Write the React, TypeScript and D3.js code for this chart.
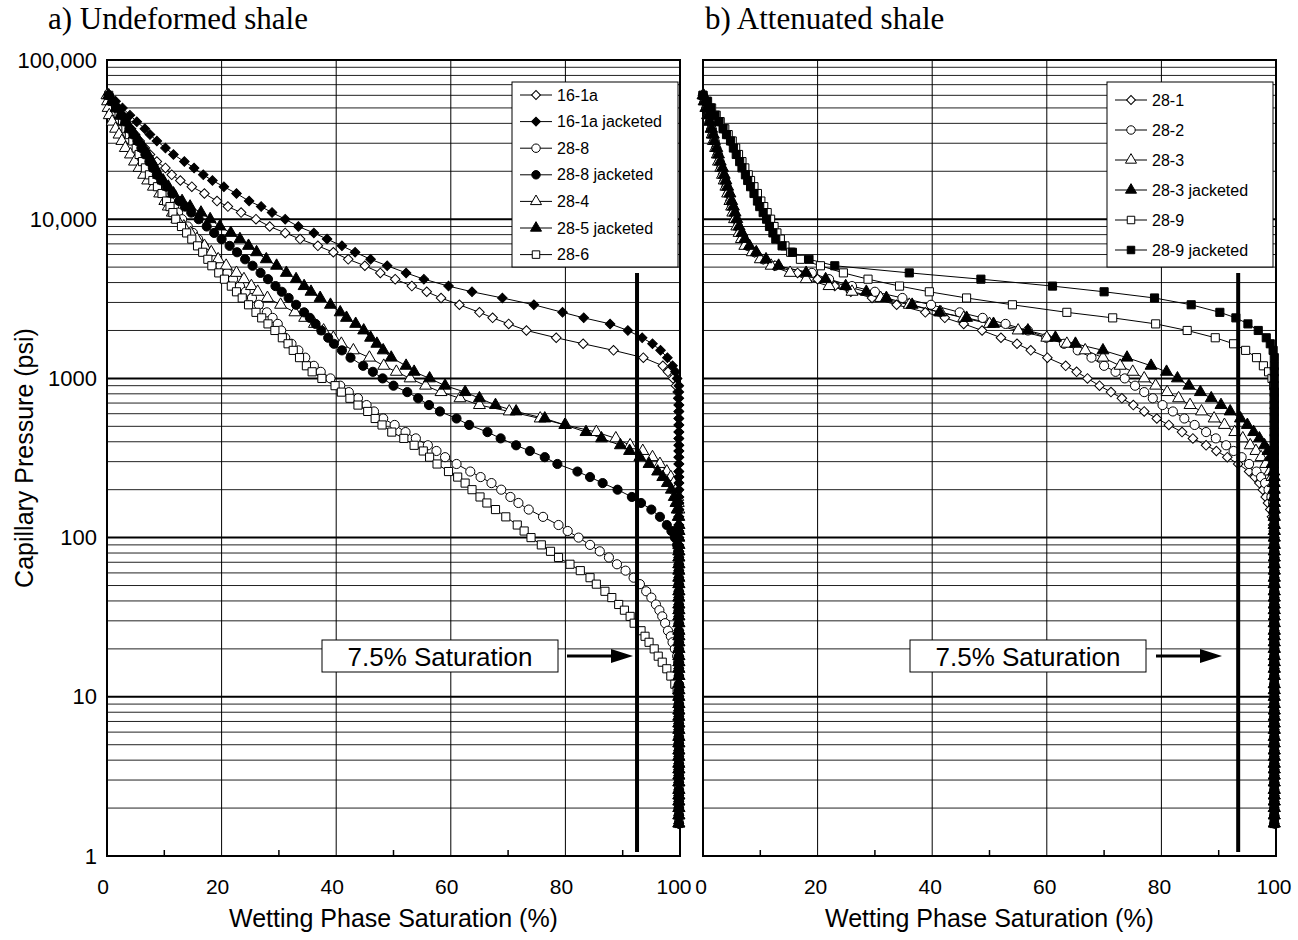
import * as d3 from "d3";
import { useEffect, useRef } from "react";

// mercury injection pressure schedule (psi), shared by every sample
const pressureSteps = [
  60000, 55000, 50000, 45000, 41000, 37000, 34000, 31000, 28000, 25500, 23000, 21000, 19000, 17500, 16000, 14500, 13000, 12000, 11000,
  10000, 9000, 8200, 7500, 6800, 6200, 5600, 5100, 4600, 4200, 3800, 3500, 3200, 2900, 2600, 2400, 2200, 2000, 1800, 1650, 1500, 1350, 1200, 1100,
  1000, 900, 820, 750, 680, 620, 560, 510, 460, 420, 380, 350, 320, 290, 260, 240, 220, 200, 180, 165, 150, 135, 120, 110,
  100, 90, 82, 75, 68, 62, 56, 51, 46, 42, 38, 35, 32, 29, 26, 24, 22, 20, 18, 16.5, 15, 13.5, 12, 11,
  10, 9, 8.2, 7.5, 6.8, 6.2, 5.6, 5.1, 4.6, 4.2, 3.8, 3.5, 3.2, 2.9, 2.6, 2.4, 2.2, 2.0, 1.8, 1.6,
];

// wetting phase saturation (%) at each pressure step; past the end of a list the sample sits at full saturation
// a) undeformed shale
const sat16_1a = [
  0.3, 1.2, 1.9, 2.7, 3.4, 4.2, 4.9, 5.7, 6.6, 7.5, 8.7, 10.2, 11.3, 12.8, 14.8, 17.0, 19.2, 21.1, 23.4,
  26.0, 28.4, 31.1, 33.7, 36.8, 39.5, 42.1, 45.0, 47.7, 50.3, 53.2, 55.8, 58.3, 61.5, 65.0, 67.3, 70.1, 73.2, 78.4, 83.1, 88.4, 93.6, 97.0, 97.9,
  98.8, 99.3, 99.6, 99.7,
];
const sat16_1aJ = [
  0.3, 1.5, 2.7, 4.0, 5.2, 6.6, 7.5, 8.7, 10.2, 11.6, 13.5, 15.2, 16.8, 18.4, 20.4, 22.6, 24.8, 26.9, 28.8,
  31.1, 33.4, 36.1, 38.4, 41.0, 43.3, 46.0, 48.9, 52.2, 55.3, 59.6, 63.7, 69.0, 74.5, 79.5, 83.2, 87.8, 90.9, 93.4, 95.2, 96.6, 97.8, 98.7, 99.2,
  99.5,
];
const sat28_8 = [
  0.3, 0.9, 1.6, 2.3, 2.9, 3.6, 4.2, 4.8, 5.4, 6.0, 6.6, 7.2, 7.8, 8.5, 9.3, 10.1, 11.0, 11.7, 12.4,
  13.1, 14.1, 15.0, 15.9, 16.9, 17.9, 18.9, 19.8, 21.0, 22.0, 23.2, 24.2, 25.3, 26.5, 27.9, 28.9, 29.8, 30.4, 31.1, 32.2, 33.4, 34.6, 36.1, 37.3,
  39.0, 40.7, 42.2, 43.8, 45.3, 46.6, 48.2, 50.2, 52.1, 53.9, 56.0, 57.5, 59.0, 61.0, 63.4, 65.2, 67.1, 68.8, 70.4, 71.8, 73.6, 76.1, 78.8, 80.4,
  82.3, 84.3, 86.0, 87.6, 89.0, 90.5, 91.9, 93.0, 94.1, 95.0, 95.8, 96.4, 96.9, 97.4, 97.9, 98.4, 98.7, 99.1, 99.5, 99.7,
];
const sat28_8J = [
  0.3, 1.0, 1.7, 2.5, 3.2, 3.9, 4.6, 5.3, 6.0, 6.7, 7.4, 8.0, 8.7, 9.5, 10.4, 11.4, 12.6, 13.6, 14.7,
  16.0, 17.4, 18.7, 20.0, 21.4, 22.7, 24.1, 25.4, 26.8, 28.1, 29.4, 30.5, 31.7, 33.0, 34.4, 35.4, 36.4, 37.4, 38.6, 39.6, 41.0, 42.5, 44.7, 46.4,
  48.1, 50.0, 52.4, 54.3, 56.2, 58.1, 61.0, 63.2, 66.4, 68.7, 71.4, 73.8, 76.4, 78.6, 82.1, 84.3, 86.5, 89.1, 91.6, 93.2, 95.0, 96.5, 97.7, 98.5,
  99.1, 99.5, 99.7,
];
const sat28_4 = [
  0.0, 0.1, 0.2, 0.4, 0.9, 1.5, 2.1, 2.6, 3.2, 4.1, 4.8, 5.6, 6.4, 7.1, 8.1, 9.2, 10.1, 10.7, 11.4,
  12.2, 13.4, 14.6, 15.7, 17.0, 18.2, 19.4, 20.8, 22.6, 23.9, 25.2, 26.3, 28.0, 30.3, 32.8, 34.5, 36.2, 37.8, 39.5, 40.9, 43.0, 45.8, 48.3, 50.5,
  52.9, 55.6, 58.3, 61.6, 65.0, 70.2, 75.6, 80.0, 85.4, 88.8, 91.3, 93.5, 95.2, 96.5, 97.7, 98.4, 98.9, 99.3, 99.6, 99.7,
];
const sat28_5J = [
  0.3, 0.9, 1.6, 2.4, 3.2, 4.0, 4.8, 5.6, 6.4, 7.1, 7.8, 8.4, 9.0, 9.8, 10.7, 11.6, 13.1, 14.5, 16.4,
  18.0, 19.7, 21.6, 23.2, 24.7, 26.1, 27.8, 29.6, 31.3, 33.0, 34.4, 35.6, 37.2, 39.0, 40.7, 41.8, 43.4, 44.8, 46.0, 47.1, 48.2, 49.6, 52.2, 53.6,
  56.3, 59.0, 62.5, 65.0, 67.8, 71.4, 76.4, 79.9, 83.6, 86.3, 89.6, 91.2, 93.0, 94.6, 96.1, 97.0, 97.8, 98.5, 99.0, 99.3, 99.5, 99.7,
];
const sat28_6 = [
  0.3, 0.9, 1.5, 2.1, 2.7, 3.3, 3.9, 4.5, 5.1, 5.6, 6.2, 6.7, 7.4, 8.0, 8.8, 9.6, 10.4, 11.0, 11.5,
  12.0, 13.0, 13.9, 14.8, 15.8, 16.7, 17.6, 18.3, 19.5, 20.5, 21.7, 22.6, 23.6, 24.7, 26.0, 27.0, 28.1, 29.3, 30.6, 31.6, 32.5, 33.6, 34.8, 35.8,
  37.5, 39.8, 40.9, 42.4, 43.8, 45.5, 46.8, 48.0, 49.7, 51.8, 53.6, 55.2, 56.3, 57.6, 59.6, 61.2, 62.5, 63.7, 65.1, 66.3, 67.8, 69.6, 71.6, 72.8,
  74.0, 75.8, 77.4, 78.8, 80.8, 82.6, 84.3, 85.4, 86.9, 88.1, 89.3, 90.3, 91.3, 92.0, 93.2, 93.9, 94.6, 95.5, 96.2, 96.9, 97.7, 98.4, 99.1, 99.5,
  99.7,
];

// b) attenuated shale
const sat28_1 = [
  0.0, 0.3, 0.6, 0.9, 1.2, 1.5, 1.7, 2.0, 2.3, 2.6, 2.9, 3.2, 3.5, 3.8, 4.1, 4.4, 4.8, 5.1, 5.4,
  5.7, 6.1, 6.6, 7.1, 7.8, 9.0, 10.5, 12.5, 16.5, 20.0, 23.0, 25.8, 29.5, 33.8, 38.8, 42.2, 45.5, 48.7, 52.0, 54.8, 57.2, 60.1, 63.3, 65.2,
  67.1, 69.2, 71.2, 73.1, 75.1, 77.0, 79.2, 81.3, 83.6, 85.5, 87.8, 89.6, 91.5, 93.4, 95.3, 96.3, 97.1, 97.7, 98.2, 98.6, 99.0, 99.3, 99.5, 99.6,
];
const sat28_2 = [
  0.0, 0.3, 0.6, 0.9, 1.2, 1.5, 1.7, 2.0, 2.3, 2.6, 2.9, 3.2, 3.5, 3.8, 4.1, 4.5, 4.8, 5.1, 5.4,
  5.7, 6.1, 6.6, 7.1, 7.8, 9.0, 10.5, 12.6, 19.0, 22.0, 26.0, 30.0, 34.8, 39.8, 44.8, 48.8, 52.8, 56.7, 59.9, 63.0, 65.4, 67.8, 70.0, 72.0,
  73.6, 75.4, 77.0, 78.5, 80.2, 82.0, 84.0, 85.8, 87.8, 89.5, 91.3, 92.6, 94.0, 95.3, 96.6, 97.4, 98.1, 98.7, 99.2, 99.5, 99.7,
];
const sat28_3 = [
  0.0, 0.2, 0.5, 0.8, 1.1, 1.4, 1.6, 1.8, 2.2, 2.5, 2.7, 3.1, 3.4, 3.7, 4.0, 4.3, 4.7, 5.0, 5.2,
  5.5, 5.9, 6.3, 6.7, 7.3, 8.6, 10.0, 11.9, 15.2, 18.0, 22.0, 26.0, 31.0, 36.0, 41.5, 45.5, 50.0, 55.0, 60.0, 63.5, 66.7, 69.8, 72.8, 75.0,
  77.0, 79.0, 81.0, 83.0, 85.0, 87.0, 89.2, 91.0, 92.8, 94.2, 95.5, 96.5, 97.4, 98.2, 98.9, 99.3, 99.5, 99.6,
];
const sat28_3J = [
  0.1, 0.3, 0.6, 0.9, 1.2, 1.5, 1.8, 2.0, 2.4, 2.7, 3.0, 3.4, 3.7, 4.0, 4.3, 4.7, 5.0, 5.3, 5.6,
  5.9, 6.3, 6.8, 7.3, 8.1, 9.3, 11.0, 13.2, 18.0, 21.4, 24.9, 28.5, 32.0, 36.5, 41.3, 46.0, 50.7, 56.7, 61.5, 65.0, 69.8, 74.0, 78.2, 80.9,
  82.8, 84.8, 86.8, 88.7, 90.4, 92.0, 93.8, 95.0, 96.1, 97.1, 98.0, 98.6, 99.0, 99.3, 99.6, 99.7,
];
const sat28_9 = [
  0.0, 0.8, 1.5, 2.3, 3.0, 3.8, 4.4, 5.1, 5.7, 6.2, 6.8, 7.3, 7.9, 8.3, 8.9, 9.5, 10.1, 10.6, 11.2,
  11.8, 12.4, 12.9, 13.5, 14.3, 15.3, 17.0, 20.5, 24.5, 28.8, 34.3, 39.5, 46.0, 54.0, 63.5, 71.5, 79.0, 84.5, 89.4, 92.6, 94.7, 96.6, 97.8, 98.7,
  99.3, 99.6,
];
const sat28_9J = [
  0.0, 0.7, 1.3, 2.1, 2.8, 3.5, 4.1, 4.8, 5.3, 5.8, 6.4, 6.8, 7.4, 7.8, 8.3, 8.9, 9.5, 9.9, 10.5,
  11.1, 11.6, 12.2, 12.7, 13.8, 15.6, 18.5, 23.0, 36.0, 48.5, 61.0, 70.0, 78.8, 85.2, 90.2, 93.0, 95.1, 96.9, 98.3, 99.0, 99.5, 99.7,
];

const fullSaturationA = 99.8;
const fullSaturationB = 99.7;
const cutoffA = 92.5; // 7.5% saturation line
const cutoffB = 93.4;

const saturationTicks = [0, 20, 40, 60, 80, 100];
const saturationMinorTicks = [10, 30, 50, 70, 90];
const pressureTicks = [1, 10, 100, 1000, 10000, 100000];
const pressureTickLabels = ["1", "10", "100", "1000", "10,000", "100,000"];

const undeformed = [
  { label: "16-1a", shape: "diamond", filled: false, sat: sat16_1a },
  { label: "16-1a jacketed", shape: "diamond", filled: true, sat: sat16_1aJ },
  { label: "28-8", shape: "circle", filled: false, sat: sat28_8 },
  { label: "28-8 jacketed", shape: "circle", filled: true, sat: sat28_8J },
  { label: "28-4", shape: "triangle", filled: false, sat: sat28_4 },
  { label: "28-5 jacketed", shape: "triangle", filled: true, sat: sat28_5J },
  { label: "28-6", shape: "square", filled: false, sat: sat28_6 },
];
const attenuated = [
  { label: "28-1", shape: "diamond", filled: false, sat: sat28_1 },
  { label: "28-2", shape: "circle", filled: false, sat: sat28_2 },
  { label: "28-3", shape: "triangle", filled: false, sat: sat28_3 },
  { label: "28-3 jacketed", shape: "triangle", filled: true, sat: sat28_3J },
  { label: "28-9", shape: "square", filled: false, sat: sat28_9 },
  { label: "28-9 jacketed", shape: "square", filled: true, sat: sat28_9J },
];

const SANS = "'Liberation Sans', Arial, sans-serif";
const SERIF = "'Liberation Serif', 'Times New Roman', serif";

const markerSize: Record<string, number> = { circle: 66, square: 66, triangle: 62, diamond: 46 };

const symbolPath = (shape: string, size: number) => {
  const type = shape === "circle" ? d3.symbolCircle : shape === "triangle" ? d3.symbolTriangle : d3.symbolSquare;
  return d3.symbol().type(type).size(size)() as string;
};

const App = () => {
  const svgRef = useRef<SVGSVGElement>(null);

  useEffect(() => {
    const svg = d3.select(svgRef.current);
    svg.selectAll("*").remove();

    const top = 60;
    const bottom = 856;
    const yScale = d3.scaleLog().domain([1, 100000]).range([bottom, top]);

    const panels = [
      {
        title: "a) Undeformed shale", titleX: 48, x0: 107, x1: 680, series: undeformed, full: fullSaturationA, cutoff: cutoffA,
        legend: { x: 512, y: 82, w: 166, h: 185, row0: 95, dy: 26.6 }, boxX: 322, arrowX0: 567, arrowTip: 633,
        yLabels: true, tickDx: -4,
      },
      {
        title: "b) Attenuated shale", titleX: 705, x0: 703, x1: 1276, series: attenuated, full: fullSaturationB, cutoff: cutoffB,
        legend: { x: 1107, y: 82, w: 166, h: 185, row0: 100, dy: 30 }, boxX: 910, arrowX0: 1156, arrowTip: 1222,
        yLabels: false, tickDx: -2,
      },
    ];

    panels.forEach((panel) => {
      const x = d3.scaleLinear().domain([0, 100]).range([panel.x0, panel.x1]);
      const g = svg.append("g");

      // horizontal grid (log minor + decades)
      for (let k = 0; k < 5; k++) {
        for (let m = 1; m < 10; m++) {
          const v = m * Math.pow(10, k);
          g.append("line")
            .attr("x1", panel.x0).attr("x2", panel.x1)
            .attr("y1", yScale(v)).attr("y2", yScale(v))
            .attr("stroke", m === 1 ? "#000" : "#222")
            .attr("stroke-width", m === 1 ? 2 : 1);
        }
      }
      // vertical grid
      saturationTicks.slice(1, -1).forEach((t) => {
        g.append("line")
          .attr("x1", x(t)).attr("x2", x(t))
          .attr("y1", top).attr("y2", bottom)
          .attr("stroke", "#000").attr("stroke-width", 1);
      });
      saturationMinorTicks.forEach((t) => {
        g.append("line")
          .attr("x1", x(t)).attr("x2", x(t))
          .attr("y1", bottom).attr("y2", bottom - 6)
          .attr("stroke", "#000").attr("stroke-width", 1.5);
      });

      // frame
      g.append("rect")
        .attr("x", panel.x0).attr("y", top)
        .attr("width", panel.x1 - panel.x0).attr("height", bottom - top)
        .attr("fill", "none").attr("stroke", "#000").attr("stroke-width", 2);

      // series: lines first, then open markers, then filled markers on top
      const line = d3.line<[number, number]>()
        .x((d) => x(d[0]))
        .y((d) => yScale(d[1]));

      const withPoints = panel.series.map((s) => ({
        ...s,
        pts: pressureSteps.map((p, i) => [i < s.sat.length ? s.sat[i] : panel.full, p] as [number, number]),
      }));

      withPoints.forEach((s) => {
        g.append("path")
          .attr("d", line(s.pts) as string)
          .attr("fill", "none").attr("stroke", "#000").attr("stroke-width", 1);
      });

      const drawMarkers = (s: (typeof withPoints)[number]) => {
        const path = symbolPath(s.shape, markerSize[s.shape]);
        g.append("g")
          .selectAll("path")
          .data(s.pts)
          .enter()
          .append("path")
          .attr("d", path)
          .attr("transform", (d) => `translate(${x(d[0])},${yScale(d[1])})${s.shape === "diamond" ? " rotate(45)" : ""}`)
          .attr("fill", s.filled ? "#000" : "#fff")
          .attr("stroke", "#000").attr("stroke-width", 1);
      };
      withPoints.filter((s) => !s.filled).forEach(drawMarkers);
      withPoints.filter((s) => s.filled).forEach(drawMarkers);

      // 7.5% saturation line
      g.append("line")
        .attr("x1", x(panel.cutoff)).attr("x2", x(panel.cutoff))
        .attr("y1", 273).attr("y2", 852)
        .attr("stroke", "#000").attr("stroke-width", 4);

      // annotation box and arrow
      const boxY = 640;
      g.append("rect")
        .attr("x", panel.boxX).attr("y", boxY).attr("width", 236).attr("height", 32)
        .attr("fill", "#fff").attr("stroke", "#000").attr("stroke-width", 1);
      g.append("text")
        .attr("x", panel.boxX + 118).attr("y", boxY + 17)
        .attr("text-anchor", "middle").attr("dominant-baseline", "central")
        .attr("font-family", SANS).attr("font-size", 26)
        .text("7.5% Saturation");
      g.append("line")
        .attr("x1", panel.arrowX0).attr("x2", panel.arrowTip - 18)
        .attr("y1", boxY + 16).attr("y2", boxY + 16)
        .attr("stroke", "#000").attr("stroke-width", 3);
      g.append("path")
        .attr("d", `M${panel.arrowTip - 22},${boxY + 9} L${panel.arrowTip},${boxY + 16} L${panel.arrowTip - 22},${boxY + 23} Z`)
        .attr("fill", "#000");

      // legend
      const L = panel.legend;
      g.append("rect")
        .attr("x", L.x).attr("y", L.y).attr("width", L.w).attr("height", L.h)
        .attr("fill", "#fff").attr("stroke", "#000").attr("stroke-width", 1);
      panel.series.forEach((s, i) => {
        const ry = L.row0 + i * L.dy;
        g.append("line")
          .attr("x1", L.x + 8).attr("x2", L.x + 40)
          .attr("y1", ry).attr("y2", ry)
          .attr("stroke", "#000").attr("stroke-width", 1);
        g.append("path")
          .attr("d", symbolPath(s.shape, markerSize[s.shape] * 0.85))
          .attr("transform", `translate(${L.x + 24},${ry})${s.shape === "diamond" ? " rotate(45)" : ""}`)
          .attr("fill", s.filled ? "#000" : "#fff")
          .attr("stroke", "#000").attr("stroke-width", 1);
        g.append("text")
          .attr("x", L.x + 45).attr("y", ry)
          .attr("dominant-baseline", "central")
          .attr("font-family", SANS).attr("font-size", 16)
          .text(s.label);
      });

      // x tick labels
      saturationTicks.forEach((t) => {
        g.append("text")
          .attr("x", x(t) + panel.tickDx - (panel.yLabels && t === 100 ? 2 : 0)).attr("y", 886)
          .attr("text-anchor", "middle").attr("dominant-baseline", "central")
          .attr("font-family", SANS).attr("font-size", 21)
          .text(t);
      });
      g.append("text")
        .attr("x", (panel.x0 + panel.x1) / 2).attr("y", 918)
        .attr("text-anchor", "middle").attr("dominant-baseline", "central")
        .attr("font-family", SANS).attr("font-size", 25)
        .text("Wetting Phase Saturation (%)");

      // panel title
      g.append("text")
        .attr("x", panel.titleX).attr("y", 29)
        .attr("font-family", SERIF).attr("font-size", 31)
        .text(panel.title);

      if (panel.yLabels) {
        pressureTicks.forEach((t, i) => {
          g.append("text")
            .attr("x", 97).attr("y", yScale(t))
            .attr("text-anchor", "end").attr("dominant-baseline", "central")
            .attr("font-family", SANS).attr("font-size", 22)
            .text(pressureTickLabels[i]);
        });
        g.append("text")
          .attr("transform", `translate(24,${(top + bottom) / 2}) rotate(-90)`)
          .attr("text-anchor", "middle").attr("dominant-baseline", "central")
          .attr("font-family", SANS).attr("font-size", 25)
          .text("Capillary Pressure (psi)");
      }
    });
  }, []);

  return (
    <svg
      ref={svgRef}
      width={1298}
      height={940}
      style={{ position: "absolute", left: 0, top: 0, background: "#fff" }}
    />
  );
};

export default App;
